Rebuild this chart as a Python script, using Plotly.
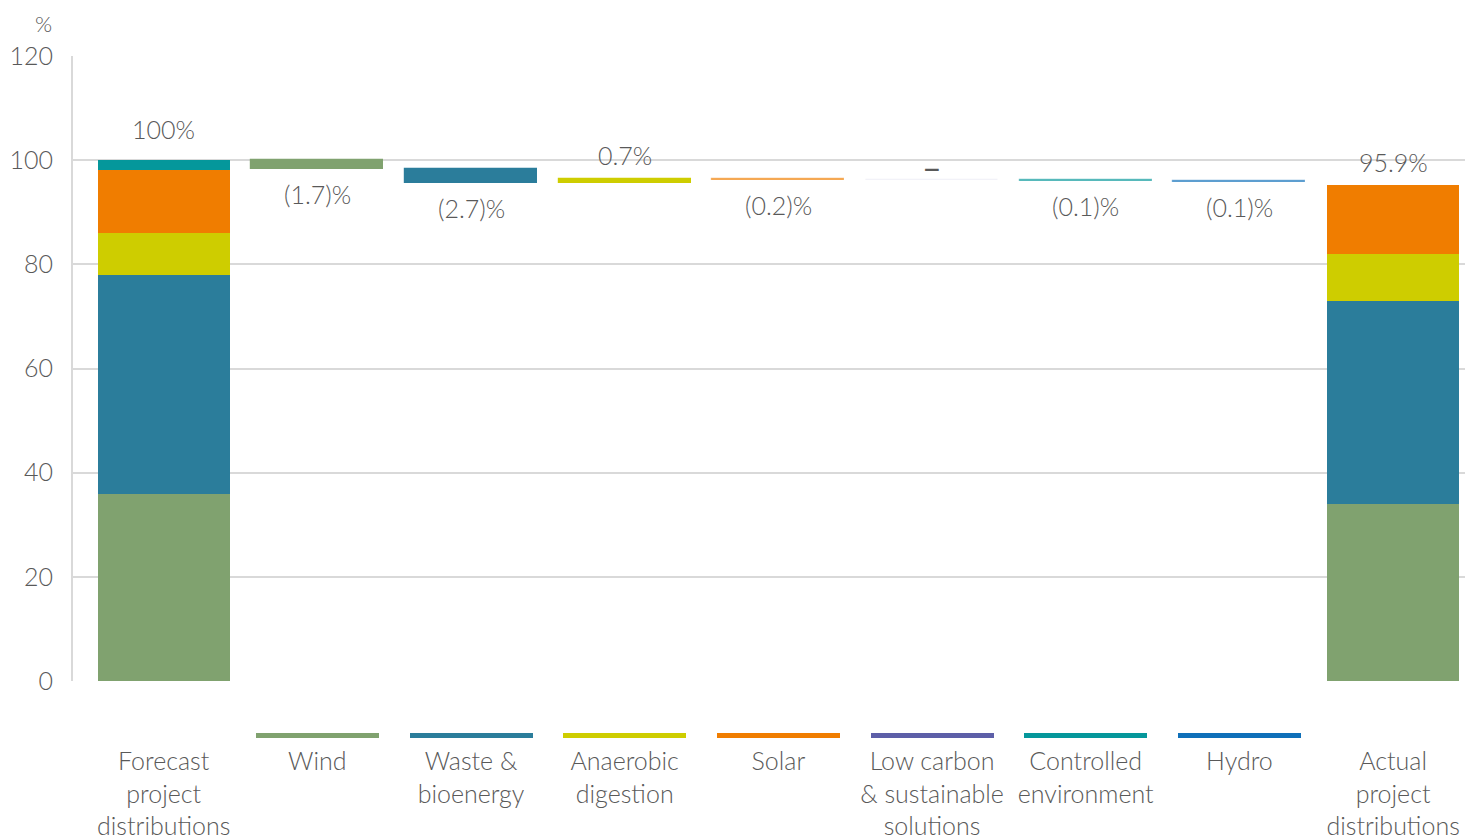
import plotly.graph_objects as go

# ---------------- data ----------------
categories = ["Forecast<br>project<br>distributions", "Wind", "Waste &<br>bioenergy",
              "Anaerobic<br>digestion", "Solar", "Low carbon<br>& sustainable<br>solutions",
              "Controlled<br>environment", "Hydro", "Actual<br>project<br>distributions"]
sectors = ["Wind", "Waste & bioenergy", "Anaerobic digestion", "Solar",
           "Low carbon & sustainable solutions", "Controlled environment", "Hydro"]
forecast = [36.0, 42.0, 8.1, 12.0, 0.0, 1.9, 0.0]
change = [-1.7, -2.7, 0.7, -0.2, 0.0, -0.1, -0.1]
actual = [34.0, 38.9, 9.0, 13.3, 0.0, 0.0, 0.0]
y_ticks = [0, 20, 40, 60, 80, 100, 120]

colors = ["#80a26f", "#2b7d9b", "#cecd00", "#f07d00", "#5d5fa8", "#05979b", "#0f70b9"]
text_col = "#595959"
grid_col = "#d9d9d9"
FONT = "Lato"
FW = 300


def rgba(hex_col, a):
    h = hex_col.lstrip("#")
    r, g, b = int(h[0:2], 16), int(h[2:4], 16), int(h[4:6], 16)
    return f"rgba({r},{g},{b},{a})"


fig = go.Figure()

# ---------- stacked total bars + waterfall bars ----------
fc_cum = 0.0
ac_cum = 0.0
wf_level = sum(forecast)
for i, name in enumerate(sectors):
    d = change[i]
    wf_base = wf_level if d >= 0 else wf_level + d
    xs = [categories[0], categories[i + 1], categories[-1]]
    ys = [forecast[i], abs(d), actual[i]]
    bases = [fc_cum, wf_base, ac_cum]
    if abs(d) < 1e-9:
        wf_col = rgba(colors[i], 0.08)
    elif abs(d) < 0.5:
        wf_col = rgba(colors[i], 0.55)
    else:
        wf_col = colors[i]
    fig.add_trace(go.Bar(
        x=xs, y=ys, base=bases, name=name, width=0.86,
        marker=dict(color=[colors[i], wf_col, colors[i]],
                    line=dict(color=[colors[i], wf_col, colors[i]], width=[0, 1.2, 0])),
        showlegend=False, hoverinfo="skip"))
    fc_cum += forecast[i]
    ac_cum += actual[i]
    wf_level += d

# ---------- coloured strips under the axis ----------
fig.add_trace(go.Bar(
    x=categories[1:-1], y=[1] * len(sectors), base=[0] * len(sectors),
    width=0.8, marker=dict(color=colors, line=dict(width=0)),
    yaxis="y2", showlegend=False, hoverinfo="skip"))

# ---------- labels ----------
def fmt(v):
    if abs(v) < 1e-9:
        return "\u2013"
    if v < 0:
        return f"({abs(v):.1f})%"
    return f"{v:.1f}%"


lab_font = dict(family=FONT, size=25, color=text_col, weight=FW)
total_forecast = sum(forecast)
total_actual = total_forecast + sum(change)
ann = []
ann.append(dict(x=categories[0], y=total_forecast, text=f"{total_forecast:.0f}%",
                yanchor="bottom", yshift=14, font=lab_font))
level = total_forecast
for i, d in enumerate(change):
    if abs(d) < 1e-9:
        ann.append(dict(x=categories[i + 1], y=level, text=fmt(d), yanchor="middle", yshift=14,
                        font=dict(family=FONT, size=34, color=text_col, weight=400)))
    elif d > 0:
        ann.append(dict(x=categories[i + 1], y=level + d, text=fmt(d), yanchor="bottom", yshift=7,
                        font=lab_font))
    else:
        ann.append(dict(x=categories[i + 1], y=level + d, text=fmt(d), yanchor="top", yshift=-8,
                        font=lab_font))
    level += d
ann.append(dict(x=categories[-1], y=total_actual, text=f"{total_actual:.1f}%",
                yanchor="bottom", yshift=3, font=lab_font))
for a in ann:
    a.update(xref="x", yref="y", showarrow=False, xanchor="center")

# page body adds an 8px offset, so the figure is 8px smaller than the window
OFF = 8
W, H = 1473 - OFF, 839 - OFF
ml, mr, mt = 73 - OFF, 0, 56 - OFF
plot_bottom = 738 - OFF
mb = H - plot_bottom
plot_h = plot_bottom - mt
plot_w = W - ml - mr
main_bottom_px = 681 - OFF
main_frac = 1 - (main_bottom_px - mt) / plot_h
strip_frac = 5 / plot_h

ann.append(dict(x=(43 - OFF - ml) / plot_w, y=1 + mt / plot_h,
                xref="paper", yref="paper",
                text="%", showarrow=False, xanchor="center", yanchor="top",
                font=dict(family=FONT, size=22, color=text_col, weight=FW)))

fig.update_layout(
    width=W, height=H,
    margin=dict(l=ml, r=mr, t=mt, b=mb, autoexpand=False),
    paper_bgcolor="white", plot_bgcolor="white",
    barmode="overlay", bargap=0,
    showlegend=False,
    annotations=ann,
    font=dict(family=FONT, color=text_col),
    xaxis=dict(type="category", categoryorder="array", categoryarray=categories,
               range=[-0.59, 8.52], anchor="y2", showline=False, showgrid=False,
               zeroline=False, ticks="", automargin=False, ticklabelstandoff=6,
               tickfont=dict(family=FONT, size=25, color=text_col, weight=FW)),
    yaxis=dict(domain=[main_frac, 1], range=[0, 120], tickvals=y_ticks,
               showgrid=True, gridcolor=grid_col, gridwidth=2,
               showline=True, linecolor=grid_col, linewidth=2,
               zeroline=False, ticks="", ticklabelstandoff=13, automargin=False,
               tickfont=dict(family=FONT, size=25, color=text_col, weight=FW), anchor="x"),
    yaxis2=dict(domain=[0, strip_frac], range=[0, 1], showgrid=False, showline=False,
                zeroline=False, showticklabels=False, anchor="x", automargin=False),
)

fig.write_html("out.html")
